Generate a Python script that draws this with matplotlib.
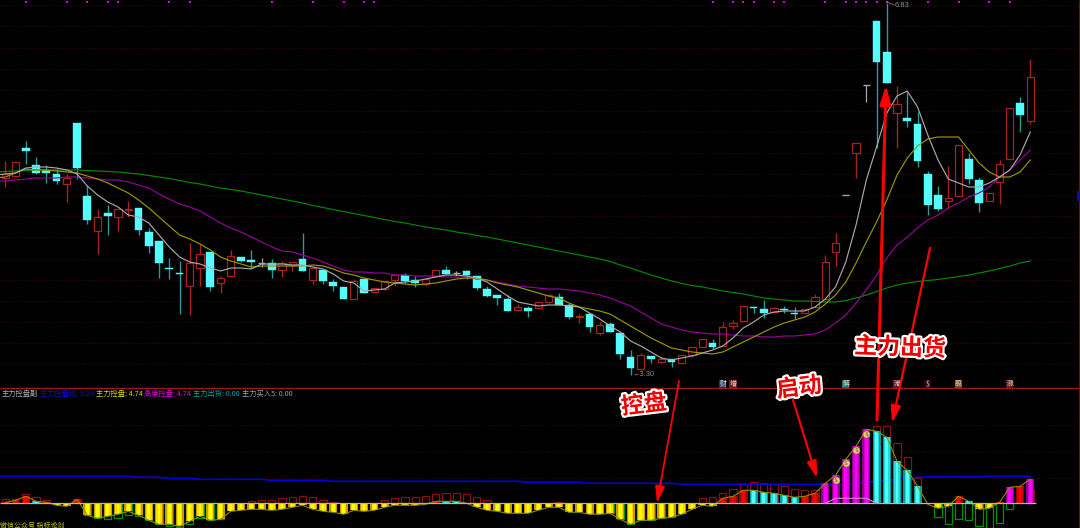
import matplotlib
matplotlib.use("Agg")
import matplotlib.pyplot as plt
import matplotlib.patheffects as pe
from matplotlib.patches import FancyArrowPatch, Rectangle
import numpy as np

FONT = ['Noto Sans CJK SC', 'DejaVu Sans']
plt.rcParams['font.family'] = FONT

# ---- chart readings, in unlabeled chart units (the original has no scale) ----
opens = [210,212,240,223,218,214,204,265,192,157,175,171,178.5,180,156,147,120,115,102,120,
         136,105,112,131,128,125,125,118,123,129,108,118,106,101,89,109,96,99,108,113,
         108,104,112,118,115,117,112,99,93,89,78,80,80,86,91,83,71.5,74,55,64,
         55,31,19,32,26,29,25,33,41,45,42,62,67,81.5,79,76,79,75,75,81,
         89,136,193,235,303,367,336,275,270,264,214,193,187,192,229,208,187,206,229,285,267]
closes = [214,226,237,215,215,207,210,220,168,171,172,179,179,158,142,125,119,114,125,134,
          101,110,132,127,126,125,118,125,126,117,120,107,102,89,107,95,100,107,113,107,
          105,109,118,114,115,113,100,92,90,77,81,77,86,93,83,71,72,61,63,56,
          34,20,33,29,29,26,33,41,49,41,61,65,82,80.5,75,80,78,74,79,91,
          126,145,193,245,303,326,305,284,267,227,183,179,190,243,209,185,195,224,280,273,311]
highs = [227,226,247,231,223,220,214,265,203,179,183,179,187,180,160,147,130,127,145,144,
         136,112,138,131,138,130,129,127,126,155,120,118,109,101,109,109,100,107,113,115,
         112,109,118,122,117,118,112,102,93,93,84,82,86,94,95,85,74,74,66,66,
         55,38,35,32,32,29,33,41,49,49,66,68,82,82,88,81,82,81,79,94,
         133,155,193,245,303,367,385,302,296,276,217,202,222,243,235,211,195,228,280,291,329]
lows = [201,211,224,214,205,204,186,209,164,134,153,157,171,153,135,110,109,74,73,102,
        97,95,112,126,120,121,110,111,117,117,104,104,97,89,89,95,95,98,102,105,
        101,102,112,114,112,109,98,91,83,77,77,71,79,85,83,69,65,56,53,56,
        29,13,18,25,25,21,25,31,41,39,42,59,67,75,70,75,75,69,75,80,
        89,122,193,210,286,240,305,240,261,221,173,177,179,192,204,176,187,184,229,256,264]
# each average starts one session before the first candle, just off the left edge
ma_index = list(range(-1, 101))
ma_short = [213,214,215,220,221,221,220,218,214,202,193,186,181,173,171,165,153,141,131,126,124,
            120,117,120,120,119,124,124,124,123,123,121,119,114,107,105,
            97,98,99,105,106,107,109,111,113,113,112,110,106,99,92,86,84,82,83,83,
            82,81,75,69,62,56,47,42,36,30,28,30,32,35,38,
            42,50,60,66,73,76,77,77,77,81,89,101,
            126,163,208,241,275,292,297,281,253,228,209,205,201,201,205,211,218,233,256]
ma_mid = [210,211,215,219,218,218,217,216,215,212,209,205,200,195,188,180,171,162,153,149,144,
          138,131,127,124,121,122,122,122,122,122,123,122,119,115,113,
          110,108,106,105,104,103,104,105,107,109,110,110,108,105,103,101,98,95,92,90,
          85,81,79,77,74,68,62,56,50,45,40,38,36,35,34,
          36,41,46,51,56,61,65,68,71,76,84,93,106,125,
          146,166,188,213,230,242,249,251,251,251,238,225,216,211,211,216,228]
ma_long = [207,207,208,209,210,210,210,211,211,210,209,208,208,206,203,200,194,189,184,181,177,
           171,165,160,156,151,146,141,137,136,133,130,126,122,118,116,
           116,115,115,113,113,112,112,112,111,111,111,109,108,106,104,102,101,100,99,99,
           98,97,95,93,90,86,82,76,70,64,61,58,56,55,54,
           54,53,52,52,51,51,52,52,53,54,58,65,73,85,98,113,130,143,151,160,
           168,173,180,185,191,195,201,211,218,228,238]
ma_year = [216,216.5,217,217.5,218,218,218,218,218,217.5,217,216.5,216,215,214,212.5,211,209.5,207.5,205.5,204,
           202,200,198.5,197,195,193,191,189,187,185,182.5,180.5,178.5,176.5,174.5,
           172.5,170.5,168.5,166.5,165,163,161,159.5,158,156,154.5,152.5,151,149,147,145,143,141,139,137,
           135,133,131,129,126.5,123,120,116.5,113,110,107,
           104.5,102.5,101,99,97,95.5,94,92,90,89,88,87,87,86.5,86,86,87.5,90,93,96.5,100,103,105,106.5,
           107.5,108.5,110,111.5,113,115,117,119.5,122,125,127]
signal_dots = [2,6,8,10,11,16,18,26,30,33,35,36,69,71,72,73,75,76,80,82,83,84,85,86,90,93,96,98]

ctrl_fill = [1,3,7,2,1,-2,-3,4,-12,-15,-13,-11,-8,-12,-17,-21,-21,-23,-18,-13,
             -17,-16,-8,-7,-6,-6,-7,-6,-4,-2,-6,-8,-9,-11,-7,-8,-7,-4,-2,-2,
             -2,-1,2,2,2,0,-4,-7,-8,-10,-10,-10,-7,-4,-4,-9,-9,-11,-11,-10,
             -16,-21,-17,-17,-15,-14,-11,-6,-2,-3,5,7,13,13,11,10,8,6,7,10,
             20,28,44,57,74,72,66,42,33,17,-1,-5,-3,7,2,-6,-5,1,16,17,24]
ctrl_outline = [4,4,9,6,3,0,0,4,-12,-15,-16,-15,-12,-13,-17,-21,-23,-24,-21,-15,
                -17,-16,0,0,2,3,3,5,6,7,6,3,1,0,0,0,0.5,3,5,6,
                6,7,9,10,10,9,6,3,0,0,0,0,0,0,1,0,0,0,0,-10,
                -16,-21,-17,-17,-15,-14,0,0,5,6,10,14,19,21,20,19,17,14,13,13,
                0,0,0,0,0,77,77,60,46,25,0,-14,-21,-16,-17,-23,-25,-20,-6,0,13]
ctrl_line = [27] + [27]*13 + [26]*3 + [25]*3 + [24]*7 + [23]*6 + [22]*19 + [21]*6 + [20]*9 + [19]*17 + \
            [20,21,22,23,24,25,26] + [26.5]*6 + [27]*5
sell_line = [0,5,5,5,5,0]
sell_index = [80,81,82,83,84,85]
cyan_bars = [3,43,44,73,74,75,76,77,85,86,87,88,89,94]
magenta_bars = [80,81,82,83,84,98,100]
bag_index = [81,82,83,84]
bag_level = [23,40,53,69]
news_index = [70,71,82,87,90,93,98]
news_text = ['财','增','解','港','$','股','涨']
news_color = ['#1a3a6a','#7a1a1a','#1a7070','#6a1a2a','#300808','#7a4a1a','#6a1a1a']
legend_text = ['主力控盘副','主力控盘线: 5.29','主力控盘: 4.74','高度控盘: 4.74','主力出货: 0.00','主力买入5: 0.00']
legend_color = ['#b0b0b0','#1010d8','#d8d800','#e000e0','#00a8a8','#a0a0a0']
legend_x = [2,40,96,144,193,242]

# ---- figure ----
W, H = 1080, 528
fig = plt.figure(figsize=(W/100, H/100), dpi=100, facecolor='black')
SPLIT = 388
ax = fig.add_axes([0, (H-SPLIT)/H, 1, SPLIT/H], facecolor='black')
low = fig.add_axes([0, 0, 1, (H-SPLIT)/H], facecolor='black')
over = fig.add_axes([0, 0, 1, 1], facecolor='none')
over.set_xlim(0, W); over.set_ylim(H, 0); over.axis('off')

XL = (-5.3/10.25, (W-5.3)/10.25)
for a in (ax, low):
    a.set_xlim(*XL)
    a.set_xticks([]); a.set_yticks([])
    for s in a.spines.values():
        s.set_visible(False)
ax.set_ylim(0, SPLIT)
low.set_ylim(-24.7, 115.3)

idx = np.arange(len(opens))
GRID = '#420808'
DOT = (0, (1, 2))
ax.hlines([382.7-21.1*k for k in range(18)], *XL, colors=GRID, lw=0.7, linestyles=DOT, zorder=1)
low.hlines([25.6, 51.6, 78.3], *XL, colors=GRID, lw=0.7, linestyles=DOT, zorder=1)

# candles
BW = 0.72
RED = '#a82222'; CY = '#54fcfc'; TEAL = '#2c9a9a'; GR = '#a8a8a8'
for i, o, c, h, l in zip(idx, opens, closes, highs, lows):
    if o == c:
        ax.vlines(i, l, h, colors=GR, lw=0.9, zorder=2)
        ax.hlines(c, i-BW/2, i+BW/2, colors=GR, lw=1.0, zorder=3)
    elif c > o:
        ax.vlines(i, l, h, colors=RED, lw=1.0, zorder=2)
        ax.bar(i, c-o, bottom=o, width=BW, facecolor='black', edgecolor=RED, lw=0.9, zorder=3)
    else:
        ax.vlines(i, l, h, colors=TEAL, lw=1.0, zorder=2)
        ax.bar(i, o-c, bottom=c, width=BW+0.05, facecolor=CY, edgecolor=CY, lw=0.3, zorder=3)

ax.plot(ma_index, ma_year, color='#008a00', lw=0.85, zorder=4)
ax.plot(ma_index, ma_long, color='#980098', lw=0.85, zorder=4)
ax.plot(ma_index, ma_mid, color='#989800', lw=0.85, zorder=5)
ax.plot(ma_index, ma_short, color='#a8a8a8', lw=0.85, zorder=6)
ax.scatter(signal_dots, [386.3]*len(signal_dots), s=3.5, marker='s', color='#e000e0', lw=0, zorder=7)

# indicator panel
PALETTE = {'y': ('#c89800', '#ffd800', '#ffff00'), 'r': ('#980000', '#d80000', '#ff0000'),
           'c': ('#009c9c', '#20dcdc', '#50ffff'), 'm': ('#900090', '#d000d0', '#ff00ff')}
low.plot(ma_index, ctrl_line, color='#0000e0', lw=1.2, zorder=2.5)
for i, f, o_ in zip(idx, ctrl_fill, ctrl_outline):
    if o_ != 0:
        low.bar(i, o_, width=BW, facecolor='none', edgecolor='#8c1010' if o_ > 0 else '#009000', lw=0.9, zorder=2)
    if f == 0:
        continue
    key = 'y' if f < 0 else 'c' if i in cyan_bars else 'm' if i in magenta_bars else 'r'
    cols = PALETTE[key]
    for w, col, z in zip((0.78, 0.54, 0.28), cols, (3, 3.1, 3.2)):
        low.bar(i, f, width=w, color=col, lw=0, zorder=z)
low.plot(idx, ctrl_fill, color='#8c8c00', lw=0.8, zorder=4)
low.hlines(0, XL[0], 100.6, colors='#b4b4b4', lw=0.9, zorder=5)
low.plot(sell_index, sell_line, color='#d080c0', lw=0.9, zorder=5)
low.scatter(bag_index, bag_level, s=26, color='#e8cc90', edgecolor='#806020', lw=0.4, zorder=6)
for i, v in zip(bag_index, bag_level):
    low.text(i, v, '$', color='#805020', fontsize=4.5, ha='center', va='center', zorder=7, family='DejaVu Sans')

# frame lines
over.hlines(388.3, 0, W, colors='#a01818', lw=0.9, zorder=1)
over.vlines(1078.5, 0, H, colors='#701010', lw=0.8, zorder=1)
over.add_patch(Rectangle((1077, 191), 3, 10, color='#101090', lw=0, zorder=2))

# legend and small labels
for t, c, x in zip(legend_text, legend_color, legend_x):
    over.text(x, 393.8, t, color=c, fontsize=5.2, ha='left', va='center')
over.text(0, 525.5, '微信公众号 指标论剑', color='#c8c800', fontsize=5.0, ha='left', va='center')
over.text(895, 5.8, '6.83', color='#909090', fontsize=5.4, ha='left', va='center', family='Liberation Sans')
over.plot([887, 894], [2, 5], color='#808080', lw=0.6)
over.text(632, 374.3, '←3.30', color='#909090', fontsize=5.4, ha='left', va='center', family=['Liberation Sans', 'DejaVu Sans'])
for i, t, c in zip(news_index, news_text, news_color):
    x = 5.3 + 10.25*i
    over.add_patch(Rectangle((x-3.6, 379.5), 7.2, 8.5, color=c, lw=0, zorder=2))
    over.text(x, 384, t, color='#e0d8d0', fontsize=5, ha='center', va='center', zorder=3)

# call-outs
def arrow(p0, p1, lw, ms=1.0):
    over.add_patch(FancyArrowPatch(p0, p1, arrowstyle=f'-|>,head_length={10*ms},head_width={2.9*ms}',
                                   mutation_scale=1, color='#ff0000', lw=lw, shrinkA=0, shrinkB=0,
                                   zorder=8))
arrow((679, 381), (657, 503), 1.3)
arrow((793, 400), (817, 478), 1.5)
arrow((877, 420), (886, 85), 2.2, 1.1)
arrow((930, 248), (892, 423), 1.6)
FX = [pe.withStroke(linewidth=3.2, foreground='white')]
for t, x, y, r, s in [('控盘', 644, 405, 7, 16.5), ('启动', 799, 388, 7, 16.5), ('主力出货', 900, 348, -2, 16.5)]:
    over.text(x, y, t, color='#f00000', fontsize=s, fontweight='bold', ha='center', va='center',
              rotation=r, path_effects=FX, zorder=9)

fig.savefig('out.png', dpi=100, facecolor='black')
